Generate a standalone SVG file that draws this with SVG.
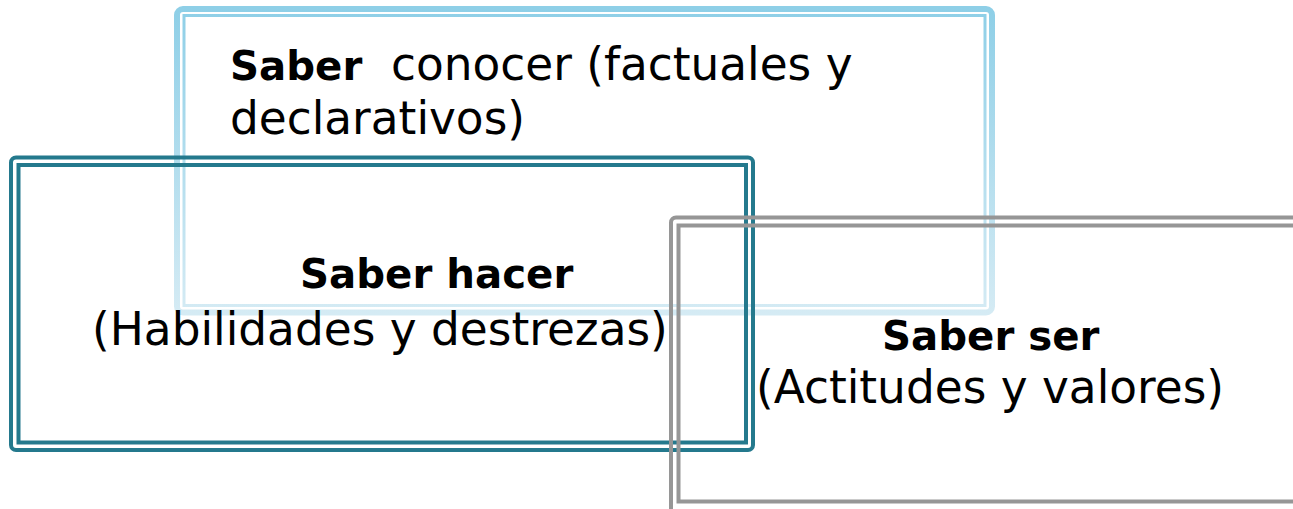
<svg xmlns="http://www.w3.org/2000/svg" width="1293" height="509" viewBox="0 0 1293 509">
  <defs>
    <linearGradient id="blueGrad" gradientUnits="userSpaceOnUse" x1="0" y1="8" x2="0" y2="314">
      <stop offset="0" stop-color="#8ecfe7"/>
      <stop offset="1" stop-color="#d5ebf4"/>
    </linearGradient>
    <style>
      .lbl { font-family: "DejaVu Sans", Verdana, sans-serif; fill: #000; }
      .reg { font-size: 45.4px; font-weight: normal; }
      .bold { font-size: 40.3px; font-weight: bold; }
      .blue-outer { fill: none; stroke: url(#blueGrad); stroke-width: 6; }
      .blue-inner { fill: none; stroke: url(#blueGrad); stroke-width: 3; }
      .teal { fill: none; stroke: #24798d; stroke-width: 4; }
      .grey { fill: none; stroke: #969696; stroke-width: 4; }
    </style>
  </defs>
  <rect width="1293" height="509" fill="#ffffff"/>

  <g id="saber-conocer">
    <rect class="blue-outer" x="177" y="9" width="815" height="303.5" rx="6"/>
    <rect class="blue-inner" x="184" y="15.5" width="801" height="290"/>
  </g>

  <g id="saber-hacer">
    <rect class="teal" x="11" y="157.5" width="742" height="292.5" rx="5"/>
    <rect class="teal" x="18.5" y="165" width="727.5" height="277.5"/>
  </g>

  <g id="saber-ser">
    <rect class="grey" x="671" y="217.5" width="640" height="310" rx="5"/>
    <rect class="grey" x="678.5" y="225.5" width="630" height="276"/>
  </g>

  <g id="connectors"></g>

  <g id="labels">
    <text class="lbl bold" x="230" y="80">Saber</text>
    <text class="lbl reg" x="391" y="80">conocer (factuales y</text>
    <text class="lbl reg" x="230" y="134">declarativos)</text>
    <text class="lbl bold" x="300" y="288">Saber hacer</text>
    <text class="lbl reg" x="92" y="345">(Habilidades y destrezas)</text>
    <text class="lbl bold" x="882" y="350">Saber ser</text>
    <text class="lbl reg" x="756" y="403">(Actitudes y valores)</text>
  </g>
</svg>
